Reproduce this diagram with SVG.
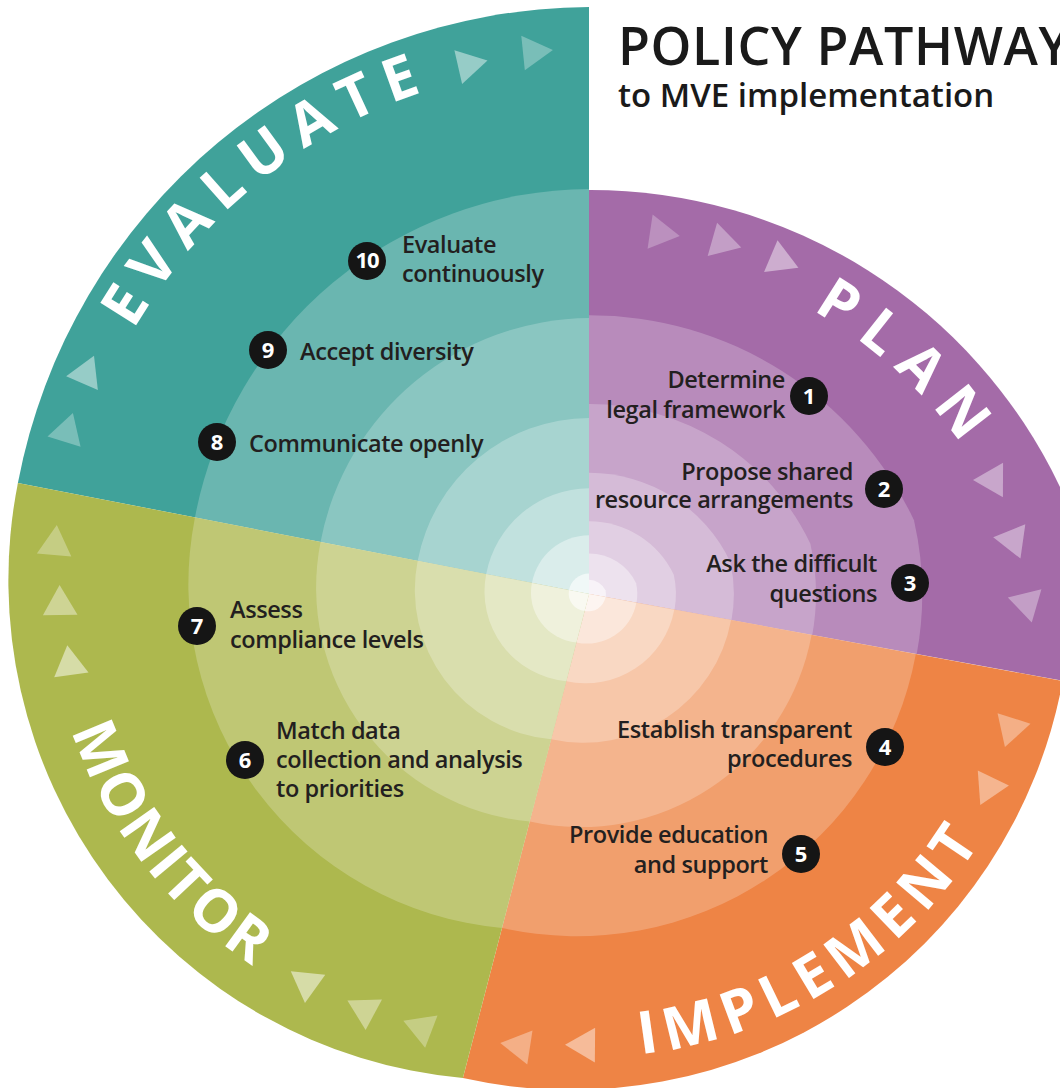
<svg xmlns="http://www.w3.org/2000/svg" width="1060" height="1088" viewBox="0 0 1060 1088">
<style>
.step{font-family:"Open Sans","Liberation Sans",sans-serif;font-weight:600;font-size:23.5px;letter-spacing:-0.4px;fill:#231f20}
.end{text-anchor:end}
.num{font-family:"Open Sans","Liberation Sans",sans-serif;font-weight:700;font-size:22px;fill:#fff;text-anchor:middle}
.badge{fill:#151515}
.phase{font-family:"Open Sans","Liberation Sans",sans-serif;font-weight:700;font-size:59px;fill:#fff}
.ring{fill:#fff}
.tri{fill:#fff}
.title{font-family:"Open Sans","Liberation Sans",sans-serif;font-weight:600;fill:#1a1a1a}
</style>
<defs>
  <path id="q-eval" d="M589,594 L17.9,483 A585,585 0 0 1 589,7 Z"/>
  <path id="q-plan" d="M589,594 L589,190 A520,520 0 0 1 1060,487 A483,483 0 0 1 1064,681 Z"/>
  <path id="q-impl" d="M589,594 L1062.7,680.9 A500,500 0 0 1 462.9,1078.1 Z"/>
  <path id="q-mon" d="M589,594 L462.9,1078.1 A500,500 0 0 1 17.9,483 Z"/>
  <path id="tri" d="M20,0 L-10,-17.3 L-10,17.3 Z"/>
  <path id="arc-eval" d="M82,455.3 A528,528 0 0 1 638,66"/>
  <path id="arc-plan" d="M708.3,268.6 A457,457 0 0 1 1019.4,553.7"/>
  <path id="arc-impl" d="M508.6,1050 A463,463 0 0 0 1036.2,713.8"/>
  <path id="arc-mon" d="M48.8,622.2 A461,461 0 0 0 388.7,1027.3"/>
</defs>
<rect width="1060" height="1088" fill="#fff"/>

<g id="evaluate">
  <use href="#q-eval" fill="#40a29a"/>
  <use href="#q-eval" class="ring" opacity="0.22" transform="matrix(.69 0 0 .69 182.59 184.14)"/>
  <use href="#q-eval" class="ring" opacity="0.22" transform="matrix(.47 0 0 .47 312.17 314.82)"/>
  <use href="#q-eval" class="ring" opacity="0.25" transform="matrix(.30 0 0 .30 412.3 415.8)"/>
  <use href="#q-eval" class="ring" opacity="0.3" transform="matrix(.18 0 0 .18 482.98 487.08)"/>
  <use href="#q-eval" class="ring" opacity="0.4" transform="matrix(.10 0 0 .10 530.1 534.6)"/>
  <use href="#q-eval" class="ring" opacity="0.6" transform="matrix(.035 0 0 .035 568.385 573.21)"/>
  <text class="phase" letter-spacing="12"><textPath href="#arc-eval" startOffset="333" text-anchor="middle">EVALUATE</textPath></text>
</g>

<g id="plan">
  <use href="#q-plan" fill="#a46ba8"/>
  <use href="#q-plan" class="ring" opacity="0.22" transform="matrix(.69 0 0 .69 182.59 184.14)"/>
  <use href="#q-plan" class="ring" opacity="0.22" transform="matrix(.47 0 0 .47 312.17 314.82)"/>
  <use href="#q-plan" class="ring" opacity="0.25" transform="matrix(.30 0 0 .30 412.3 415.8)"/>
  <use href="#q-plan" class="ring" opacity="0.3" transform="matrix(.18 0 0 .18 482.98 487.08)"/>
  <use href="#q-plan" class="ring" opacity="0.4" transform="matrix(.10 0 0 .10 530.1 534.6)"/>
  <use href="#q-plan" class="ring" opacity="0.6" transform="matrix(.035 0 0 .035 568.385 573.21)"/>
  <text class="phase" letter-spacing="14"><textPath href="#arc-plan" startOffset="220" text-anchor="middle">PLAN</textPath></text>
</g>

<g id="implement">
  <use href="#q-impl" fill="#ee8445"/>
  <use href="#q-impl" class="ring" opacity="0.22" transform="matrix(.69 0 0 .69 182.59 184.14)"/>
  <use href="#q-impl" class="ring" opacity="0.22" transform="matrix(.47 0 0 .47 312.17 314.82)"/>
  <use href="#q-impl" class="ring" opacity="0.25" transform="matrix(.30 0 0 .30 412.3 415.8)"/>
  <use href="#q-impl" class="ring" opacity="0.3" transform="matrix(.18 0 0 .18 482.98 487.08)"/>
  <use href="#q-impl" class="ring" opacity="0.4" transform="matrix(.10 0 0 .10 530.1 534.6)"/>
  <use href="#q-impl" class="ring" opacity="0.6" transform="matrix(.035 0 0 .035 568.385 573.21)"/>
  <text class="phase" letter-spacing="8"><textPath href="#arc-impl" startOffset="343" text-anchor="middle">IMPLEMENT</textPath></text>
</g>

<g id="monitor">
  <use href="#q-mon" fill="#adb84e"/>
  <use href="#q-mon" class="ring" opacity="0.22" transform="matrix(.69 0 0 .69 182.59 184.14)"/>
  <use href="#q-mon" class="ring" opacity="0.22" transform="matrix(.47 0 0 .47 312.17 314.82)"/>
  <use href="#q-mon" class="ring" opacity="0.25" transform="matrix(.30 0 0 .30 412.3 415.8)"/>
  <use href="#q-mon" class="ring" opacity="0.3" transform="matrix(.18 0 0 .18 482.98 487.08)"/>
  <use href="#q-mon" class="ring" opacity="0.4" transform="matrix(.10 0 0 .10 530.1 534.6)"/>
  <use href="#q-mon" class="ring" opacity="0.6" transform="matrix(.035 0 0 .035 568.385 573.21)"/>
  <text class="phase" letter-spacing="2"><textPath href="#arc-mon" startOffset="263" text-anchor="middle">MONITOR</textPath></text>
</g>

<g id="connectors">
  <use href="#tri" class="tri" opacity="0.45" transform="translate(468,65) rotate(-12.9)"/>
  <use href="#tri" class="tri" opacity="0.3" transform="translate(533,52) rotate(-5.9)"/>
  <use href="#tri" class="tri" opacity="0.45" transform="translate(86,374) rotate(293.6)"/>
  <use href="#tri" class="tri" opacity="0.3" transform="translate(67,432) rotate(287.2)"/>
  <use href="#tri" class="tri" opacity="0.25" transform="translate(660,233) rotate(8.4)"/>
  <use href="#tri" class="tri" opacity="0.35" transform="translate(722,242) rotate(15.8)"/>
  <use href="#tri" class="tri" opacity="0.45" transform="translate(780,260) rotate(22.9)"/>
  <use href="#tri" class="tri" opacity="0.4" transform="translate(993,480) rotate(60.3)"/>
  <use href="#tri" class="tri" opacity="0.4" transform="translate(1013,540) rotate(68.1)"/>
  <use href="#tri" class="tri" opacity="0.35" transform="translate(1027,603) rotate(76.2)"/>
  <use href="#tri" class="tri" opacity="0.35" transform="translate(1011,728) rotate(107.6)"/>
  <use href="#tri" class="tri" opacity="0.4" transform="translate(989,787) rotate(115.8)"/>
  <use href="#tri" class="tri" opacity="0.45" transform="translate(585,1045) rotate(180.5)"/>
  <use href="#tri" class="tri" opacity="0.35" transform="translate(520,1046) rotate(188.7)"/>
  <use href="#tri" class="tri" opacity="0.3" transform="translate(422,1028) rotate(201)"/>
  <use href="#tri" class="tri" opacity="0.4" transform="translate(365,1010) rotate(208.3)"/>
  <use href="#tri" class="tri" opacity="0.5" transform="translate(307,983) rotate(215.9)"/>
  <use href="#tri" class="tri" opacity="0.5" transform="translate(70,665) rotate(262.2)"/>
  <use href="#tri" class="tri" opacity="0.4" transform="translate(60,605) rotate(268.8)"/>
  <use href="#tri" class="tri" opacity="0.3" transform="translate(55,545) rotate(275.2)"/>
</g>

<g id="step-1">
  <text class="step end" x="785" y="388">Determine</text>
  <text class="step end" x="785" y="418">legal framework</text>
  <circle class="badge" cx="809" cy="396" r="19"/>
  <text class="num" x="809" y="404">1</text>
</g>
<g id="step-2">
  <text class="step end" x="853" y="480">Propose shared</text>
  <text class="step end" x="853" y="508">resource arrangements</text>
  <circle class="badge" cx="884" cy="489" r="19"/>
  <text class="num" x="884" y="497">2</text>
</g>
<g id="step-3">
  <text class="step end" x="877" y="572">Ask the difficult</text>
  <text class="step end" x="877" y="602">questions</text>
  <circle class="badge" cx="910" cy="583" r="19"/>
  <text class="num" x="910" y="591">3</text>
</g>
<g id="step-4">
  <text class="step end" x="852" y="738">Establish transparent</text>
  <text class="step end" x="852" y="767">procedures</text>
  <circle class="badge" cx="885" cy="747" r="19"/>
  <text class="num" x="885" y="755">4</text>
</g>
<g id="step-5">
  <text class="step end" x="768" y="843">Provide education</text>
  <text class="step end" x="768" y="873">and support</text>
  <circle class="badge" cx="801" cy="854" r="19"/>
  <text class="num" x="801" y="862">5</text>
</g>
<g id="step-6">
  <circle class="badge" cx="245" cy="760" r="19"/>
  <text class="num" x="245" y="768">6</text>
  <text class="step" x="276" y="739">Match data</text>
  <text class="step" x="276" y="768">collection and analysis</text>
  <text class="step" x="276" y="797">to priorities</text>
</g>
<g id="step-7">
  <circle class="badge" cx="197" cy="626" r="19"/>
  <text class="num" x="197" y="634">7</text>
  <text class="step" x="230" y="618">Assess</text>
  <text class="step" x="230" y="648">compliance levels</text>
</g>
<g id="step-8">
  <circle class="badge" cx="217" cy="442" r="19"/>
  <text class="num" x="217" y="450">8</text>
  <text class="step" x="249" y="452">Communicate openly</text>
</g>
<g id="step-9">
  <circle class="badge" cx="268" cy="350" r="19"/>
  <text class="num" x="268" y="358">9</text>
  <text class="step" x="300" y="360">Accept diversity</text>
</g>
<g id="step-10">
  <circle class="badge" cx="367" cy="261" r="19"/>
  <text class="num" x="367" y="268" font-size="19" letter-spacing="-1">10</text>
  <text class="step" x="402" y="253">Evaluate</text>
  <text class="step" x="402" y="282">continuously</text>
</g>

<g id="title">
  <text class="title" x="618" y="65" font-size="52" letter-spacing="0.6">POLICY PATHWAY</text>
  <text class="title" x="618" y="107" font-size="33">to MVE implementation</text>
</g>
</svg>
